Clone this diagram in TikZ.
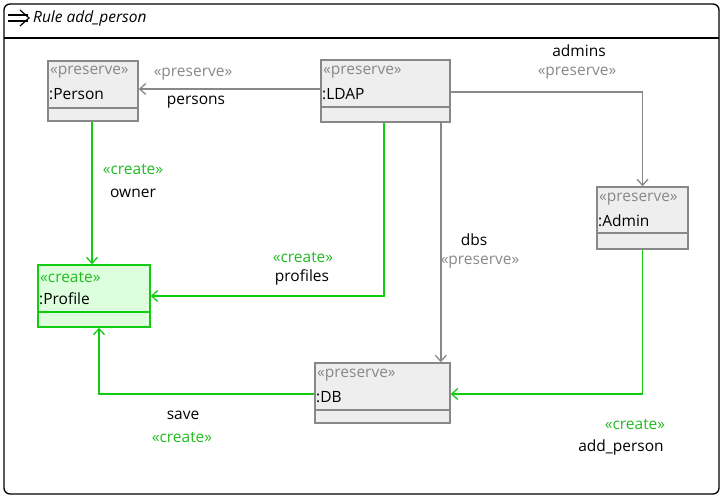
\documentclass[tikz,border=0pt]{standalone}
\usepackage{fontspec}
\setmainfont{Open Sans}
\usetikzlibrary{arrows.meta}

\definecolor{boxfill}{HTML}{EEEEEE}
\definecolor{boxline}{HTML}{888888}
\definecolor{grnline}{HTML}{11CC11}
\definecolor{grnfill}{HTML}{DDFFDD}
\definecolor{grntext}{HTML}{22BB22}

\tikzset{
  pbox/.style={draw=boxline,fill=boxfill,line width=1.6pt,inner sep=0pt},
  cbox/.style={draw=grnline,fill=grnfill,line width=1.6pt,inner sep=0pt},
  ptext/.style={text=boxline,anchor=west,inner sep=0pt},
  ctext/.style={text=grntext,anchor=west,inner sep=0pt},
  ntext/.style={text=black,anchor=west,inner sep=0pt},
  pedge/.style={draw=boxline,line width=1.5pt,-{Straight Barb[length=6pt,width=11pt,line width=1.3pt]}},
  cedge/.style={draw=grnline,line width=1.5pt,-{Straight Barb[length=6pt,width=11pt,line width=1.3pt]}},
  plabel/.style={text=boxline,inner sep=0pt},
  clabel/.style={text=grntext,inner sep=0pt},
  nlabel/.style={text=black,inner sep=0pt}
}

\begin{document}
\begin{tikzpicture}[x=1pt,y=-1pt,font=\fontsize{15.5}{18}\selectfont]
  \useasboundingbox (0,0) rectangle (724,498);
  % frame and title
  \draw[line width=1.3pt,rounded corners=6pt] (4,4) rectangle (719,494);
  \draw[line width=1.1pt] (4,38) -- (719,38);
  \draw[line width=1.2pt] (8,15) -- (28,15) (8,21) -- (28,21);
  \draw[line width=1.2pt] (20,10) -- (29,18) -- (20,26);
  \node[ntext,font=\fontsize{15.5}{18}\selectfont\itshape] (title) at (33,18) {Rule add\_person};

  % boxes
  \node[pbox,minimum width=90,minimum height=60] (person) at (93,91) {};
  \node[pbox,minimum width=129,minimum height=62] (ldap) at (385.5,91) {};
  \node[pbox,minimum width=91,minimum height=62] (admin) at (642.5,218) {};
  \node[cbox,minimum width=112,minimum height=62] (profile) at (94,296) {};
  \node[pbox,minimum width=135,minimum height=60] (db) at (382.5,393) {};
  \draw[boxline,line width=1.6pt] ([yshift=14pt]person.south west) -- ([yshift=14pt]person.south east);
  \draw[boxline,line width=1.6pt] ([yshift=16pt]ldap.south west) -- ([yshift=16pt]ldap.south east);
  \draw[boxline,line width=1.6pt] ([yshift=17pt]admin.south west) -- ([yshift=17pt]admin.south east);
  \draw[grnline,line width=1.6pt] ([yshift=16pt]profile.south west) -- ([yshift=16pt]profile.south east);
  \draw[boxline,line width=1.6pt] ([yshift=14pt]db.south west) -- ([yshift=14pt]db.south east);

  % box texts
  \node[ptext] (personst) at (50,72) {«preserve»};
  \node[ntext] (personname) at (49,94) {:Person};
  \node[ptext] (ldapst) at (323,72) {«preserve»};
  \node[ntext] (ldapname) at (322,94) {:LDAP};
  \node[ptext] (adminst) at (599,199) {«preserve»};
  \node[ntext] (adminname) at (598,221) {:Admin};
  \node[ctext] (profilest) at (40,277) {«create»};
  \node[ntext] (profilename) at (39,299) {:Profile};
  \node[ptext] (dbst) at (317,375) {«preserve»};
  \node[ntext] (dbname) at (316,397) {:DB};

  % edges
  \draw[pedge] ([yshift=2pt]ldap.west) -- ([yshift=2pt]ldap.west -| person.east);
  \draw[pedge] ([yshift=-1pt]ldap.east) -| (admin.north);
  \draw[pedge] ([xshift=-10pt]ldap.south east) -- ([xshift=-10pt]db.north east);
  \draw[cedge] ([xshift=-1.5pt]ldap.south) |- (profile.east);
  \draw[cedge] ([xshift=-1pt]person.south) -- ([xshift=-1pt]person.south |- profile.north);
  \draw[cedge] ([yshift=-1pt]db.west) -| ([xshift=5pt]profile.south);
  \draw[cedge] (admin.south) |- ([yshift=-1pt]db.east);

  % edge labels
  \node[plabel] (personsst) at (193,74) {«preserve»};
  \node[nlabel] (personslb) at (196,102) {persons};
  \node[nlabel] (adminslb) at (579,51) {admins};
  \node[plabel] (adminsst) at (577,73) {«preserve»};
  \node[nlabel] (dbslb) at (474,240) {dbs};
  \node[plabel] (dbsst) at (480,262) {«preserve»};
  \node[clabel] (profilesst) at (303,257) {«create»};
  \node[nlabel] (profileslb) at (302,277) {profiles};
  \node[clabel] (ownerst) at (133,169) {«create»};
  \node[nlabel] (ownerlb) at (133,193) {owner};
  \node[nlabel] (savelb) at (183,415) {save};
  \node[clabel] (savest) at (182,437) {«create»};
  \node[clabel] (addst) at (635,424) {«create»};
  \node[nlabel] (addlb) at (621,447) {add\_person};
\end{tikzpicture}
\end{document}
